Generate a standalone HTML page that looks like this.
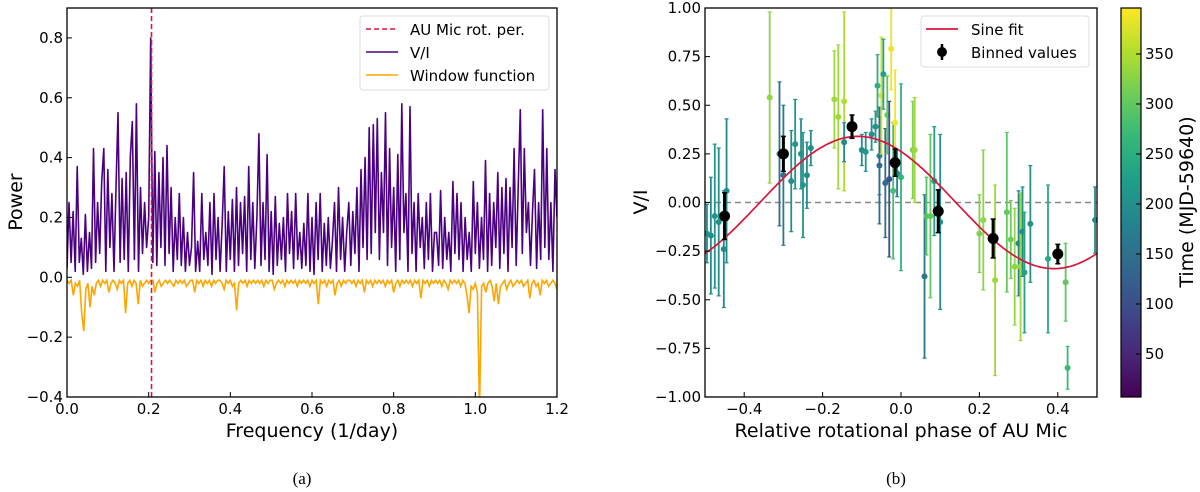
<!DOCTYPE html>
<html><head><meta charset="utf-8"><style>
body{margin:0;background:#fff;}
svg{display:block;font-family:"DejaVu Sans","Liberation Sans",sans-serif;}
</style></head><body>
<svg id="fig" width="1200" height="492" viewBox="0 0 1200 492" xmlns="http://www.w3.org/2000/svg"></svg>
<script>
// ---- Panel (a) data (evenly sampled over 0 .. 1.2 1/day) ----
const freqMax = 1.2;
const powerVI = [.03,.25,.05,.22,.02,.37,.05,.13,.01,.21,.02,.15,.03,.43,.05,.25,.08,.32,.43,.02,.36,.10,.28,.02,.30,.55,.05,.33,.06,.35,.02,.40,.52,.06,.58,.02,.30,.08,.25,.10,.20,.80,.05,.42,.04,.35,.10,.40,.04,.44,.08,.30,.02,.20,.06,.28,.04,.20,.02,.15,.04,.10,.35,.02,.12,.02,.28,.06,.15,.04,.25,.01,.28,.06,.20,.02,.18,.37,.02,.22,.06,.26,.02,.30,.04,.25,.08,.27,.02,.37,.06,.25,.03,.20,.48,.04,.25,.06,.41,.02,.22,.01,.27,.04,.18,.06,.20,.02,.28,.08,.22,.03,.28,.06,.15,.03,.18,.04,.28,.02,.20,.01,.25,.06,.28,.02,.18,.04,.20,.03,.12,.25,.02,.30,.06,.20,.02,.15,.25,.04,.22,.08,.30,.02,.36,.10,.40,.06,.50,.08,.51,.15,.53,.06,.35,.15,.55,.04,.43,.10,.30,.02,.41,.06,.58,.15,.28,.02,.57,.08,.25,.02,.28,.10,.20,.03,.25,.06,.28,.02,.15,.15,.04,.29,.03,.20,.06,.15,.02,.32,.08,.28,.06,.25,.02,.20,.06,.15,.02,.32,.08,.25,.03,.20,.06,.39,.02,.28,.04,.25,.10,.35,.03,.30,.08,.33,.02,.30,.10,.43,.04,.30,.56,.08,.43,.15,.25,.04,.22,.36,.03,.25,.06,.56,.10,.43,.06,.25,.02,.36,.20];
const windowFn = [-.01,-.02,-.01,-.06,-.02,-.03,-.01,-.12,-.18,-.04,-.02,-.10,-.03,-.06,-.02,-.01,-.03,-.01,-.02,-.01,-.05,-.02,-.01,-.02,-.04,-.01,-.02,-.01,-.12,-.02,-.01,-.03,-.01,-.02,-.09,-.01,-.03,-.02,-.01,-.02,-.01,-.01,-.05,-.02,-.01,-.03,-.02,-.01,-.02,-.01,-.02,-.03,-.01,-.02,-.01,-.02,-.01,-.03,-.02,-.01,-.01,-.05,-.01,-.02,-.01,-.03,-.01,-.02,-.01,-.03,-.01,-.02,-.01,-.01,-.02,-.04,-.01,-.02,-.01,-.03,-.02,-.11,-.02,-.01,-.02,-.01,-.03,-.01,-.02,-.01,-.02,-.01,-.02,-.01,-.03,-.01,-.02,-.01,-.01,-.04,-.02,-.01,-.02,-.01,-.03,-.01,-.02,-.01,-.02,-.01,-.03,-.01,-.02,-.01,-.02,-.01,-.03,-.01,-.02,-.01,-.09,-.01,-.02,-.01,-.03,-.01,-.02,-.01,-.06,-.02,-.01,-.03,-.01,-.02,-.01,-.01,-.02,-.01,-.03,-.01,-.02,-.01,-.05,-.01,-.02,-.01,-.03,-.01,-.02,-.01,-.02,-.01,-.03,-.01,-.02,-.01,-.05,-.02,-.01,-.03,-.01,-.02,-.01,-.02,-.01,-.03,-.01,-.02,-.01,-.07,-.01,-.02,-.01,-.03,-.01,-.02,-.01,-.02,-.01,-.03,-.01,-.02,-.04,-.01,-.02,-.01,-.02,-.01,-.03,-.01,-.02,-.06,-.12,-.03,-.04,-.02,-.05,-.45,-.03,-.02,-.05,-.02,-.01,-.03,-.08,-.02,-.09,-.03,-.02,-.01,-.04,-.02,-.01,-.03,-.02,-.01,-.02,-.01,-.03,-.02,-.01,-.07,-.02,-.01,-.03,-.02,-.06,-.01,-.02,-.01,-.03,-.02,-.01,-.02,-.04];
const rotFreq = 0.207;
const xTicksA = [0.0,0.2,0.4,0.6,0.8,1.0,1.2];
const yTicksA = [-0.4,-0.2,0.0,0.2,0.4,0.6,0.8];

// ---- Panel (b) data ----
const phases = [-0.495,-0.485,-0.475,-0.465,-0.452,-0.445,-0.335,-0.31,-0.30,-0.28,-0.27,-0.255,-0.25,-0.24,-0.23,-0.17,-0.16,-0.145,-0.145,-0.10,-0.09,-0.075,-0.065,-0.06,-0.055,-0.055,-0.05,-0.045,-0.04,-0.035,-0.03,-0.025,-0.02,-0.015,-0.01,0.0,0.03,0.035,0.06,0.065,0.075,0.085,0.10,0.20,0.21,0.24,0.27,0.28,0.29,0.30,0.305,0.31,0.315,0.33,0.375,0.42,0.425,0.495];
const viValues = [-0.16,-0.17,-0.07,-0.10,-0.24,0.06,0.54,0.25,0.14,0.11,0.30,0.25,0.09,0.14,0.28,0.53,0.44,0.52,0.31,0.27,0.26,0.35,0.39,0.60,0.24,0.19,0.55,0.66,0.10,0.45,0.12,0.79,0.06,0.41,0.15,0.13,0.27,0.27,-0.38,-0.07,-0.07,0.11,-0.10,-0.16,-0.09,-0.40,-0.05,-0.19,-0.33,-0.21,-0.33,-0.15,-0.36,-0.11,-0.29,-0.41,-0.85,-0.09];
const viErrors = [0.15,0.30,0.37,0.38,0.30,0.37,0.44,0.37,0.36,0.26,0.23,0.18,0.27,0.17,0.09,0.25,0.37,0.46,0.10,0.08,0.10,0.08,0.08,0.16,0.20,0.30,0.30,0.18,0.28,0.20,0.40,0.21,0.35,0.27,0.12,0.48,0.25,0.27,0.42,0.20,0.42,0.28,0.45,0.20,0.36,0.49,0.41,0.20,0.30,0.27,0.38,0.23,0.31,0.30,0.38,0.20,0.11,0.17];
const obsTimes = [200,200,210,200,190,190,330,150,160,200,210,200,210,200,200,340,340,350,190,200,210,200,210,250,200,140,370,230,140,300,100,385,280,390,180,260,320,340,160,290,300,220,200,320,330,340,300,310,330,180,340,200,230,200,240,300,270,190];
const binPhases = [-0.45,-0.30,-0.125,-0.015,0.095,0.235,0.40];
const binValues = [-0.07,0.25,0.39,0.205,-0.045,-0.185,-0.265];
const binErrors = [0.12,0.09,0.06,0.07,0.11,0.10,0.05];
const sineAmp = 0.34, sinePeak = -0.11;
const xTicksB = [-0.4,-0.2,0.0,0.2,0.4];
const yTicksB = [-1.0,-0.75,-0.5,-0.25,0.0,0.25,0.5,0.75,1.0];
const cbarTicks = [50,100,150,200,250,300,350];
const tMin = 7, tMax = 396;

const NS='http://www.w3.org/2000/svg';
const svg=document.getElementById('fig');
function mk(tag,attrs,parent){const e=document.createElementNS(NS,tag);for(const k in attrs)e.setAttribute(k,attrs[k]);(parent||svg).appendChild(e);return e;}
function txt(s,attrs,parent){const e=mk('text',attrs,parent);e.textContent=s;return e;}
const viridis=[[68,1,84],[72,40,120],[62,74,137],[49,104,142],[38,130,142],[31,158,137],[53,183,121],[109,205,89],[180,222,44],[253,231,37]];
function vcol(t){let u=Math.max(0,Math.min(1,(t-tMin)/(tMax-tMin)))*(viridis.length-1);const i=Math.min(Math.floor(u),viridis.length-2),f=u-i;const c=viridis[i].map((v,k)=>Math.round(v+(viridis[i+1][k]-v)*f));return `rgb(${c})`;}
function fmt(v,d){return (v<0?'\u2212':'')+Math.abs(v).toFixed(d);}

// ===== Panel A =====
const A={x0:67,x1:557,y0:8,y1:397,xmin:0,xmax:1.2,ymin:-0.4,ymax:0.9};
const ax=v=>A.x0+(v-A.xmin)/(A.xmax-A.xmin)*(A.x1-A.x0);
const ay=v=>A.y1-(v-A.ymin)/(A.ymax-A.ymin)*(A.y1-A.y0);
const gA=mk('g',{});


mk('defs',{}).innerHTML='<clipPath id="clipA"><rect x="67" y="8" width="490" height="389"/></clipPath><clipPath id="clipB"><rect x="705" y="8" width="392" height="389"/></clipPath>';
function seriesPath(arr){const st=freqMax/(arr.length-1);let d='';arr.forEach((p,i)=>{d+=(i?'L':'M')+ax(i*st).toFixed(1)+','+ay(p).toFixed(1);});return d;}
const lv=mk('path',{d:seriesPath(powerVI),fill:'none',stroke:'#4b0082','stroke-width':1.6,'stroke-linejoin':'round','clip-path':'url(#clipA)'},gA);


const lw=mk('path',{d:seriesPath(windowFn),fill:'none',stroke:'#ffa500','stroke-width':1.6,'clip-path':'url(#clipA)'},gA);


const rl=mk('line',{x1:ax(rotFreq),x2:ax(rotFreq),y1:A.y0,y2:A.y1,stroke:'#dc143c','stroke-width':1.6,'stroke-dasharray':'5,3'},gA);


mk('rect',{x:A.x0,y:A.y0,width:A.x1-A.x0,height:A.y1-A.y0,fill:'none',stroke:'#000','stroke-width':1.3},gA);
xTicksA.forEach(v=>{const x=ax(v);mk('line',{x1:x,x2:x,y1:A.y1,y2:A.y1-5,stroke:'#000'},gA);const t=txt(v.toFixed(1),{x,y:A.y1+17,'font-size':15,'text-anchor':'middle'},gA);});
yTicksA.forEach(v=>{const y=ay(v);mk('line',{x1:A.x0,x2:A.x0+5,y1:y,y2:y,stroke:'#000'},gA);const t=txt(fmt(v,1),{x:A.x0-4,y:y+5,'font-size':15,'text-anchor':'end'},gA);});
const xlA=txt('Frequency (1/day)',{x:312,y:437,'font-size':19,'text-anchor':'middle'},gA);

const ylA=txt('Power',{x:0,y:0,'font-size':19,'text-anchor':'middle',transform:'translate(22,202) rotate(-90)'},gA);

const legA=mk('g',{},gA);

mk('rect',{x:360,y:16,width:189,height:74,rx:3,fill:'#fff',stroke:'#ddd'},legA);
mk('line',{x1:366,x2:398,y1:29,y2:29,stroke:'#dc143c','stroke-width':1.6,'stroke-dasharray':'5,3'},legA);
mk('line',{x1:366,x2:398,y1:52,y2:52,stroke:'#4b0082','stroke-width':1.6},legA);
mk('line',{x1:366,x2:398,y1:75,y2:75,stroke:'#ffa500','stroke-width':1.6},legA);
['AU Mic rot. per.','V/I','Window function'].forEach((s,i)=>{const t=txt(s,{x:410,y:35+i*23,'font-size':15},legA);});
const capA=txt('(a)',{x:302,y:484,'font-size':17,'text-anchor':'middle','font-family':'Liberation Serif, serif'});


// ===== Panel B =====
const B={x0:705,x1:1097,y0:8,y1:397,xmin:-0.5,xmax:0.5,ymin:-1,ymax:1};
const bx=v=>B.x0+(v-B.xmin)/(B.xmax-B.xmin)*(B.x1-B.x0);
const by=v=>B.y1-(v-B.ymin)/(B.ymax-B.ymin)*(B.y1-B.y0);
const gB=mk('g',{});


const inner=mk('g',{'clip-path':'url(#clipB)'},gB);
mk('line',{x1:B.x0,x2:B.x1,y1:by(0),y2:by(0),stroke:'#888','stroke-width':1.5,'stroke-dasharray':'6,4'},inner);
phases.forEach((p,i)=>{const c=vcol(obsTimes[i]);const x=bx(p),v=viValues[i],e=viErrors[i];
 const g=mk('g',{},inner);
 
 
 mk('line',{x1:x,x2:x,y1:by(v+e),y2:by(v-e),stroke:c,'stroke-width':1.8},g);
 mk('line',{x1:x-2,x2:x+2,y1:by(v+e),y2:by(v+e),stroke:c,'stroke-width':1.2},g);
 mk('line',{x1:x-2,x2:x+2,y1:by(v-e),y2:by(v-e),stroke:c,'stroke-width':1.2},g);
 mk('circle',{cx:x,cy:by(v),r:3,fill:c},g);});
let d='';for(let i=0;i<=200;i++){const p=B.xmin+i/200;d+=(i?'L':'M')+bx(p).toFixed(1)+','+by(sineAmp*Math.cos(2*Math.PI*(p-sinePeak))).toFixed(1);}
const sl=mk('path',{d,fill:'none',stroke:'#dc143c','stroke-width':1.7},inner);

binPhases.forEach((p,i)=>{const x=bx(p),v=binValues[i],e=binErrors[i];
 const g=mk('g',{},inner);
 
 
 mk('line',{x1:x,x2:x,y1:by(v+e),y2:by(v-e),stroke:'#000','stroke-width':3},g);
 mk('line',{x1:x-2.5,x2:x+2.5,y1:by(v+e),y2:by(v+e),stroke:'#000','stroke-width':1.5},g);
 mk('line',{x1:x-2.5,x2:x+2.5,y1:by(v-e),y2:by(v-e),stroke:'#000','stroke-width':1.5},g);
 mk('circle',{cx:x,cy:by(v),r:5.5,fill:'#000'},g);});
mk('rect',{x:B.x0,y:B.y0,width:B.x1-B.x0,height:B.y1-B.y0,fill:'none',stroke:'#000','stroke-width':1.3},gB);
xTicksB.forEach(v=>{const x=bx(v);mk('line',{x1:x,x2:x,y1:B.y1,y2:B.y1-5,stroke:'#000'},gB);const t=txt(fmt(v,1),{x,y:B.y1+17,'font-size':15,'text-anchor':'middle'},gB);});
yTicksB.forEach(v=>{const y=by(v);mk('line',{x1:B.x0,x2:B.x0+5,y1:y,y2:y,stroke:'#000'},gB);const t=txt(fmt(v,2),{x:B.x0-4,y:y+5,'font-size':15,'text-anchor':'end'},gB);});
const xlB=txt('Relative rotational phase of AU Mic',{x:901,y:437,'font-size':19,'text-anchor':'middle'},gB);

const ylB=txt('V/I',{x:0,y:0,'font-size':19,'text-anchor':'middle',transform:'translate(647,202) rotate(-90)'},gB);

const legB=mk('g',{},gB);

mk('rect',{x:921,y:16,width:168,height:51,rx:3,fill:'#fff',stroke:'#ddd'},legB);
mk('line',{x1:926,x2:958,y1:29,y2:29,stroke:'#dc143c','stroke-width':1.7},legB);
mk('line',{x1:942,x2:942,y1:44,y2:60,stroke:'#000','stroke-width':2.5},legB);
mk('circle',{cx:942,cy:52,r:5,fill:'#000'},legB);
['Sine fit','Binned values'].forEach((s,i)=>{const t=txt(s,{x:971,y:35+i*23,'font-size':15},legB);});
const capB=txt('(b)',{x:896,y:484,'font-size':17,'text-anchor':'middle','font-family':'Liberation Serif, serif'});


// ===== Colorbar =====
const C={x0:1121,x1:1141,y0:8,y1:397};
const cy=t=>C.y1-(t-tMin)/(tMax-tMin)*(C.y1-C.y0);
const defs=mk('defs',{});
const grad=mk('linearGradient',{id:'vgrad',x1:0,y1:1,x2:0,y2:0},defs);
viridis.forEach((c,i)=>mk('stop',{offset:i/(viridis.length-1),'stop-color':`rgb(${c})`},grad));
const gC=mk('g',{});

mk('rect',{x:C.x0,y:C.y0,width:C.x1-C.x0,height:C.y1-C.y0,fill:'url(#vgrad)',stroke:'#000','stroke-width':1.2},gC);
cbarTicks.forEach(t=>{const y=cy(t);mk('line',{x1:C.x1-5,x2:C.x1,y1:y,y2:y,stroke:'#000'},gC);const e=txt(String(t),{x:C.x1+4,y:y+5,'font-size':15},gC);});
const cl=txt('Time (MJD-59640)',{x:0,y:0,'font-size':19,'text-anchor':'middle',transform:'translate(1193,202) rotate(-90)'},gC);

</script>
</body></html>
